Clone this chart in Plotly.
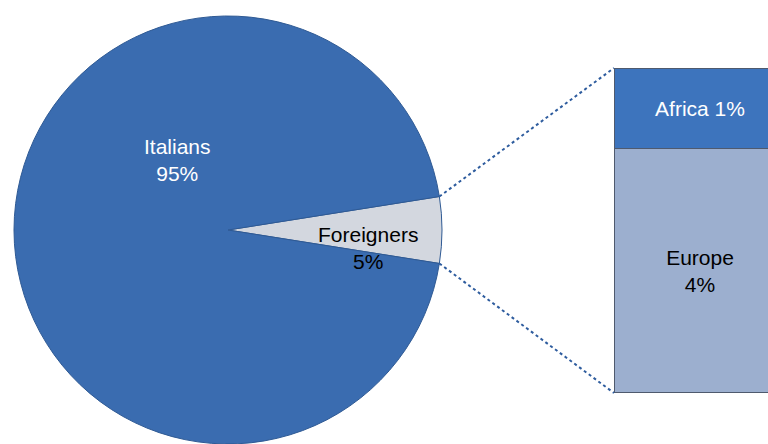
import math
import plotly.graph_objects as go

# ---- data ----
pie_labels = ["Foreigners", "Italians"]
pie_values = [5.0, 95.0]
bar_labels = ["Europe", "Africa"]
bar_values = [3.76, 1.24]

W, H = 768, 444
FONT = "Liberation Sans, Arial, sans-serif"

pie_colors = ["#d3d7df", "#3a6cb0"]
bar_colors = ["#9cafcf", "#3d74bd"]
bar_text_colors = ["black", "white"]


def px(x):
    return x / W


def py(y):
    return 1 - y / H


# pie placement (paper), target center (228,230), radius 214
pie_dx = [px(228 - 214), px(228 + 214)]
pie_dy = [py(230 + 214), py(230 - 214)]

fig = go.Figure()

fig.add_trace(go.Pie(
    labels=pie_labels, values=pie_values, sort=False,
    direction="clockwise",
    rotation=90 - pie_values[0] / sum(pie_values) * 180,
    marker=dict(colors=pie_colors, line=dict(color="#2f5a94", width=1)),
    textinfo="none", hoverinfo="label+percent", showlegend=False,
    domain=dict(x=pie_dx, y=pie_dy),
))

# bar of pie
bar_xdom = [px(614), 1.0]
bar_ydom = [py(393), py(68)]
bar_visible_px = W - 614
for lab, val, col, tcol in zip(bar_labels, bar_values, bar_colors, bar_text_colors):
    pct = round(val)
    txt = f"{lab} {pct}%" if lab == "Africa" else f"{lab}<br>{pct}%"
    fig.add_trace(go.Bar(
        x=[0], y=[val], width=[1.0], name=lab,
        marker=dict(color=col, line=dict(color="#4f5a6e", width=1.5)),
        text=[txt], textposition="inside", insidetextanchor="middle",
        textfont=dict(color=tcol, size=21, family=FONT),
        showlegend=False, hoverinfo="name+y",
    ))

fig.update_layout(
    barmode="stack",
    width=W, height=H,
    margin=dict(l=0, r=0, t=0, b=0),
    paper_bgcolor="white", plot_bgcolor="rgba(0,0,0,0)",
    font=dict(family=FONT, size=21),
    uniformtext=dict(minsize=21, mode="show"),
    xaxis=dict(domain=bar_xdom, range=[-0.5, -0.5 + bar_visible_px / 172], visible=False, fixedrange=True),
    yaxis=dict(domain=bar_ydom, range=[0, sum(bar_values)], visible=False, fixedrange=True),
)

# connector lines from the foreigners slice to the bar
cx = (pie_dx[0] + pie_dx[1]) / 2 * W
cy = (pie_dy[0] + pie_dy[1]) / 2 * H
r = min((pie_dx[1] - pie_dx[0]) * W, (pie_dy[1] - pie_dy[0]) * H) / 2
half = math.radians(pie_values[0] / sum(pie_values) * 180)
ex = (cx + r * math.cos(half)) / W
ey_top = (cy + r * math.sin(half)) / H
ey_bot = (cy - r * math.sin(half)) / H
for ey, by in [(ey_top, bar_ydom[1]), (ey_bot, bar_ydom[0])]:
    fig.add_shape(type="line", xref="paper", yref="paper",
                  x0=ex, y0=ey, x1=bar_xdom[0], y1=by,
                  line=dict(color="#2e5c9e", width=2, dash="dot"))

# slice labels
tot = sum(pie_values)
fig.add_annotation(x=px(177), y=py(160), xref="paper", yref="paper",
                   xanchor="center", yanchor="middle",
                   text=f"{pie_labels[1]}<br>{round(pie_values[1] / tot * 100)}%",
                   showarrow=False, font=dict(color="white", size=21, family=FONT))
fig.add_annotation(x=px(368), y=py(248), xref="paper", yref="paper",
                   xanchor="center", yanchor="middle",
                   text=f"{pie_labels[0]}<br>{round(pie_values[0] / tot * 100)}%",
                   showarrow=False, font=dict(color="black", size=21, family=FONT))

fig.write_html(
    "out.html",
    config={"displayModeBar": False},
    post_script="document.body.style.margin='0';document.body.style.overflow='hidden';",
)
